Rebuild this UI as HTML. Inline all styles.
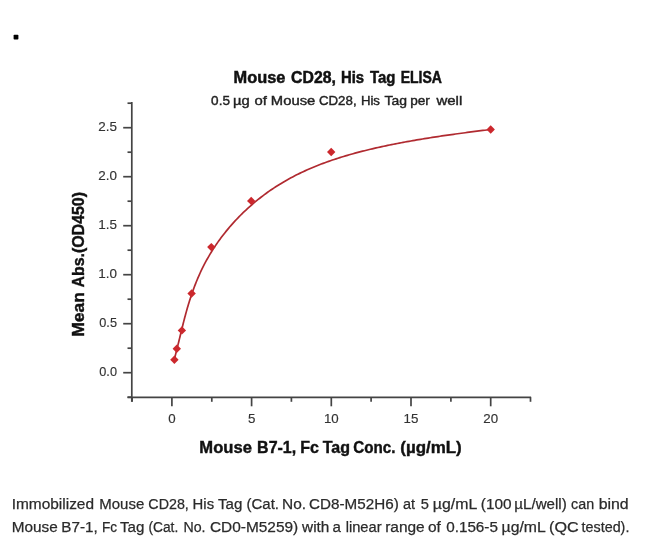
<!DOCTYPE html>
<html><head><meta charset="utf-8"><style>
html,body{margin:0;padding:0;background:#fff;}
body{width:650px;height:538px;overflow:hidden;position:relative;}
svg{position:absolute;left:0;top:0;filter:blur(0.35px);}
text{font-family:"Liberation Sans",sans-serif;}
</style></head><body>
<svg width="650" height="538" viewBox="0 0 650 538">
<rect x="0" y="0" width="650" height="538" fill="#fff"/>
<rect x="13.6" y="34.7" width="4.8" height="4.8" rx="0.8" fill="#000"/>
<g stroke="#444" stroke-width="1.7" fill="none">
<line x1="131.8" y1="102" x2="131.8" y2="401.8"/>
<line x1="127.5" y1="397.3" x2="531.1" y2="397.3"/>
<line x1="127.5" y1="397.2" x2="131.8" y2="397.2"/><line x1="123.2" y1="372.7" x2="131.8" y2="372.7"/><line x1="127.5" y1="348.2" x2="131.8" y2="348.2"/><line x1="123.2" y1="323.7" x2="131.8" y2="323.7"/><line x1="127.5" y1="299.2" x2="131.8" y2="299.2"/><line x1="123.2" y1="274.7" x2="131.8" y2="274.7"/><line x1="127.5" y1="250.2" x2="131.8" y2="250.2"/><line x1="123.2" y1="225.7" x2="131.8" y2="225.7"/><line x1="127.5" y1="201.2" x2="131.8" y2="201.2"/><line x1="123.2" y1="176.7" x2="131.8" y2="176.7"/><line x1="127.5" y1="152.2" x2="131.8" y2="152.2"/><line x1="123.2" y1="127.7" x2="131.8" y2="127.7"/><line x1="127.5" y1="103.2" x2="131.8" y2="103.2"/>
<line x1="132.1" y1="397.3" x2="132.1" y2="401.8"/><line x1="171.9" y1="397.3" x2="171.9" y2="406.3"/><line x1="211.8" y1="397.3" x2="211.8" y2="401.8"/><line x1="251.6" y1="397.3" x2="251.6" y2="406.3"/><line x1="291.4" y1="397.3" x2="291.4" y2="401.8"/><line x1="331.3" y1="397.3" x2="331.3" y2="406.3"/><line x1="371.1" y1="397.3" x2="371.1" y2="401.8"/><line x1="411.0" y1="397.3" x2="411.0" y2="406.3"/><line x1="450.9" y1="397.3" x2="450.9" y2="401.8"/><line x1="490.7" y1="397.3" x2="490.7" y2="406.3"/><line x1="530.5" y1="397.3" x2="530.5" y2="401.8"/>
</g>
<g font-size="16.4" font-weight="bold" fill="#111" stroke="#111" stroke-width="0.5"><text x="233.60" y="82.80" textLength="51.82" lengthAdjust="spacingAndGlyphs">Mouse</text><text x="291.10" y="82.80" textLength="44.75" lengthAdjust="spacingAndGlyphs">CD28,</text><text x="340.89" y="82.80" textLength="23.18" lengthAdjust="spacingAndGlyphs">His</text><text x="370.10" y="82.80" textLength="25.35" lengthAdjust="spacingAndGlyphs">Tag</text><text x="400.64" y="82.80" textLength="41.30" lengthAdjust="spacingAndGlyphs">ELISA</text></g>
<g font-size="13.2" font-weight="normal" fill="#222" stroke="#222" stroke-width="0.4"><text x="211.10" y="105.20" textLength="18.85" lengthAdjust="spacingAndGlyphs">0.5</text><text x="232.98" y="105.20" textLength="16.66" lengthAdjust="spacingAndGlyphs">µg</text><text x="254.50" y="105.20" textLength="12.40" lengthAdjust="spacingAndGlyphs">of</text><text x="270.88" y="105.20" textLength="44.39" lengthAdjust="spacingAndGlyphs">Mouse</text><text x="318.90" y="105.20" textLength="37.69" lengthAdjust="spacingAndGlyphs">CD28,</text><text x="360.90" y="105.20" textLength="19.06" lengthAdjust="spacingAndGlyphs">His</text><text x="384.50" y="105.20" textLength="22.48" lengthAdjust="spacingAndGlyphs">Tag</text><text x="410.17" y="105.20" textLength="19.70" lengthAdjust="spacingAndGlyphs">per</text><text x="436.40" y="105.20" textLength="25.82" lengthAdjust="spacingAndGlyphs">well</text></g>
<g font-size="16.1" font-weight="bold" fill="#111" stroke="#111" stroke-width="0.4"><text x="199.37" y="452.50" textLength="52.51" lengthAdjust="spacingAndGlyphs">Mouse</text><text x="257.11" y="452.50" textLength="39.05" lengthAdjust="spacingAndGlyphs">B7-1,</text><text x="300.21" y="452.50" textLength="18.69" lengthAdjust="spacingAndGlyphs">Fc</text><text x="322.70" y="452.50" textLength="27.32" lengthAdjust="spacingAndGlyphs">Tag</text><text x="353.30" y="452.50" textLength="42.18" lengthAdjust="spacingAndGlyphs">Conc.</text><text x="400.25" y="452.50" textLength="61.51" lengthAdjust="spacingAndGlyphs">(µg/mL)</text></g>
<g transform="translate(83.60,0) rotate(-90)" font-size="16" font-weight="bold" fill="#111" stroke="#111" stroke-width="0.4"><text x="-336.79" y="0" textLength="44.79" lengthAdjust="spacingAndGlyphs">Mean</text><text x="-287.50" y="0" textLength="95.53" lengthAdjust="spacingAndGlyphs">Abs.(OD450)</text></g>
<g font-size="15.1" font-weight="normal" fill="#2b2b2b" stroke="#2b2b2b" stroke-width="0.25"><text x="11.68" y="508.50" textLength="82.37" lengthAdjust="spacingAndGlyphs">Immobilized</text><text x="99.31" y="508.50" textLength="45.00" lengthAdjust="spacingAndGlyphs">Mouse</text><text x="148.35" y="508.50" textLength="40.50" lengthAdjust="spacingAndGlyphs">CD28,</text><text x="192.61" y="508.50" textLength="21.49" lengthAdjust="spacingAndGlyphs">His</text><text x="218.00" y="508.50" textLength="24.34" lengthAdjust="spacingAndGlyphs">Tag</text><text x="246.51" y="508.50" textLength="32.51" lengthAdjust="spacingAndGlyphs">(Cat.</text><text x="281.98" y="508.50" textLength="24.06" lengthAdjust="spacingAndGlyphs">No.</text><text x="309.09" y="508.50" textLength="89.62" lengthAdjust="spacingAndGlyphs">CD8-M52H6)</text><text x="403.04" y="508.50" textLength="12.07" lengthAdjust="spacingAndGlyphs">at</text><text x="420.63" y="508.50" textLength="8.17" lengthAdjust="spacingAndGlyphs">5</text><text x="432.85" y="508.50" textLength="44.43" lengthAdjust="spacingAndGlyphs">µg/mL</text><text x="480.78" y="508.50" textLength="30.74" lengthAdjust="spacingAndGlyphs">(100</text><text x="514.30" y="508.50" textLength="52.42" lengthAdjust="spacingAndGlyphs">µL/well)</text><text x="571.05" y="508.50" textLength="23.07" lengthAdjust="spacingAndGlyphs">can</text><text x="598.65" y="508.50" textLength="30.03" lengthAdjust="spacingAndGlyphs">bind</text></g>
<g font-size="15.1" font-weight="normal" fill="#2b2b2b" stroke="#2b2b2b" stroke-width="0.25"><text x="11.68" y="531.70" textLength="46.03" lengthAdjust="spacingAndGlyphs">Mouse</text><text x="61.29" y="531.70" textLength="36.40" lengthAdjust="spacingAndGlyphs">B7-1,</text><text x="101.90" y="531.70" textLength="15.10" lengthAdjust="spacingAndGlyphs">Fc</text><text x="120.00" y="531.70" textLength="24.34" lengthAdjust="spacingAndGlyphs">Tag</text><text x="148.39" y="531.70" textLength="29.87" lengthAdjust="spacingAndGlyphs">(Cat.</text><text x="183.46" y="531.70" textLength="22.05" lengthAdjust="spacingAndGlyphs">No.</text><text x="209.98" y="531.70" textLength="88.24" lengthAdjust="spacingAndGlyphs">CD0-M5259)</text><text x="302.10" y="531.70" textLength="27.26" lengthAdjust="spacingAndGlyphs">with</text><text x="332.50" y="531.70" textLength="8.41" lengthAdjust="spacingAndGlyphs">a</text><text x="345.63" y="531.70" textLength="35.90" lengthAdjust="spacingAndGlyphs">linear</text><text x="385.18" y="531.70" textLength="39.55" lengthAdjust="spacingAndGlyphs">range</text><text x="427.98" y="531.70" textLength="12.91" lengthAdjust="spacingAndGlyphs">of</text><text x="446.20" y="531.70" textLength="51.71" lengthAdjust="spacingAndGlyphs">0.156-5</text><text x="501.55" y="531.70" textLength="44.22" lengthAdjust="spacingAndGlyphs">µg/mL</text><text x="549.13" y="531.70" textLength="29.59" lengthAdjust="spacingAndGlyphs">(QC</text><text x="581.60" y="531.70" textLength="47.78" lengthAdjust="spacingAndGlyphs">tested).</text></g>
<g font-size="13.3" fill="#333" stroke="#333" stroke-width="0.15"><text x="99.30" y="376.00" textLength="17.68" lengthAdjust="spacingAndGlyphs">0.0</text><text x="99.30" y="327.00" textLength="17.68" lengthAdjust="spacingAndGlyphs">0.5</text><text x="98.29" y="278.00" textLength="18.72" lengthAdjust="spacingAndGlyphs">1.0</text><text x="98.29" y="229.00" textLength="18.72" lengthAdjust="spacingAndGlyphs">1.5</text><text x="98.29" y="180.00" textLength="18.72" lengthAdjust="spacingAndGlyphs">2.0</text><text x="98.29" y="131.00" textLength="18.72" lengthAdjust="spacingAndGlyphs">2.5</text></g>
<g font-size="13.3" fill="#333" stroke="#333" stroke-width="0.15" text-anchor="middle"><text x="171.9" y="422.9">0</text><text x="251.6" y="422.9">5</text><text x="331.3" y="422.9">10</text><text x="411.0" y="422.9">15</text><text x="490.7" y="422.9">20</text></g>
<path d="M174.28,359.59 L174.76,357.69 L175.25,355.79 L175.73,353.88 L176.21,351.97 L176.68,350.07 L177.16,348.16 L177.63,346.25 L178.10,344.34 L178.57,342.43 L179.04,340.51 L179.51,338.60 L179.98,336.69 L180.44,334.78 L180.91,332.86 L181.38,330.95 L181.85,329.03 L182.32,327.12 L182.79,325.21 L183.27,323.30 L183.76,321.39 L184.25,319.48 L184.74,317.57 L185.25,315.67 L185.76,313.77 L186.28,311.87 L186.81,309.97 L187.35,308.08 L187.90,306.18 L188.47,304.30 L189.04,302.41 L189.63,300.53 L190.23,298.66 L190.84,296.79 L191.47,294.92 L192.11,293.06 L192.76,291.21 L193.43,289.36 L194.11,287.51 L194.81,285.67 L195.52,283.84 L196.24,282.02 L196.99,280.20 L197.74,278.39 L198.52,276.58 L199.31,274.79 L200.12,273.00 L200.95,271.22 L201.79,269.45 L202.65,267.68 L203.53,265.93 L204.43,264.18 L205.35,262.45 L206.28,260.72 L207.24,259.00 L208.21,257.30 L209.20,255.60 L210.20,253.91 L211.23,252.23 L212.27,250.56 L213.32,248.90 L214.40,247.26 L215.49,245.62 L216.60,243.99 L217.72,242.37 L218.86,240.77 L220.02,239.17 L221.19,237.59 L222.38,236.02 L223.58,234.46 L224.80,232.91 L226.03,231.37 L227.28,229.84 L228.55,228.33 L229.82,226.82 L231.12,225.33 L232.42,223.85 L233.74,222.39 L235.08,220.93 L236.43,219.49 L237.79,218.06 L239.16,216.65 L240.55,215.24 L241.95,213.85 L243.37,212.47 L244.79,211.11 L246.23,209.76 L247.69,208.42 L249.15,207.10 L250.63,205.79 L252.11,204.49 L253.61,203.21 L255.12,201.94 L256.65,200.69 L258.18,199.45 L259.73,198.22 L261.28,197.01 L262.85,195.81 L264.42,194.63 L266.01,193.47 L267.61,192.31 L269.21,191.18 L270.83,190.06 L272.46,188.95 L274.09,187.86 L275.74,186.79 L277.39,185.73 L279.05,184.68 L280.73,183.66 L282.41,182.65 L284.09,181.65 L285.79,180.67 L287.50,179.71 L289.21,178.76 L290.93,177.82 L292.66,176.91 L294.39,176.00 L296.14,175.11 L297.89,174.24 L299.65,173.37 L301.41,172.53 L303.18,171.69 L304.96,170.87 L306.75,170.07 L308.54,169.27 L310.34,168.49 L312.14,167.72 L313.95,166.97 L315.76,166.23 L317.59,165.50 L319.41,164.78 L321.25,164.07 L323.08,163.38 L324.93,162.69 L326.77,162.02 L328.63,161.36 L330.48,160.71 L332.35,160.07 L334.21,159.45 L336.08,158.83 L337.96,158.22 L339.84,157.63 L341.72,157.04 L343.60,156.46 L345.49,155.89 L347.39,155.33 L349.28,154.78 L351.18,154.24 L353.08,153.71 L354.99,153.19 L356.90,152.68 L358.81,152.17 L360.72,151.67 L362.64,151.18 L364.55,150.70 L366.47,150.22 L368.39,149.75 L370.32,149.29 L372.24,148.84 L374.17,148.39 L376.09,147.95 L378.02,147.52 L379.95,147.09 L381.88,146.67 L383.81,146.25 L385.74,145.84 L387.67,145.44 L389.60,145.04 L391.53,144.65 L393.47,144.26 L395.40,143.87 L397.33,143.50 L399.26,143.12 L401.20,142.75 L403.13,142.39 L405.07,142.03 L407.00,141.67 L408.93,141.32 L410.87,140.98 L412.81,140.64 L414.74,140.30 L416.68,139.96 L418.61,139.64 L420.55,139.31 L422.49,138.99 L424.43,138.67 L426.37,138.36 L428.31,138.05 L430.25,137.74 L432.19,137.43 L434.13,137.13 L436.07,136.84 L438.01,136.54 L439.95,136.25 L441.90,135.96 L443.84,135.68 L445.78,135.40 L447.73,135.12 L449.67,134.84 L451.62,134.57 L453.57,134.30 L455.51,134.03 L457.46,133.76 L459.41,133.50 L461.36,133.23 L463.31,132.97 L465.26,132.72 L467.22,132.46 L469.17,132.20 L471.12,131.95 L473.08,131.70 L475.03,131.45 L476.99,131.20 L478.94,130.95 L480.90,130.71 L482.86,130.46 L484.82,130.22 L486.78,129.98 L488.74,129.74 L490.70,129.50" stroke="#b02a30" stroke-width="1.7" fill="none" stroke-linejoin="round"/>
<g fill="#cc282d"><path d="M174.4,355.6 l4.2,4.2 l-4.2,4.2 l-4.2,-4.2 z"/><path d="M176.8,344.5 l4.2,4.2 l-4.2,4.2 l-4.2,-4.2 z"/><path d="M181.9,326.2 l4.2,4.2 l-4.2,4.2 l-4.2,-4.2 z"/><path d="M191.6,289.3 l4.2,4.2 l-4.2,4.2 l-4.2,-4.2 z"/><path d="M211.3,242.9 l4.2,4.2 l-4.2,4.2 l-4.2,-4.2 z"/><path d="M251.2,196.7 l4.2,4.2 l-4.2,4.2 l-4.2,-4.2 z"/><path d="M331.2,147.8 l4.2,4.2 l-4.2,4.2 l-4.2,-4.2 z"/><path d="M490.7,125.3 l4.2,4.2 l-4.2,4.2 l-4.2,-4.2 z"/></g>
</svg>
</body></html>
